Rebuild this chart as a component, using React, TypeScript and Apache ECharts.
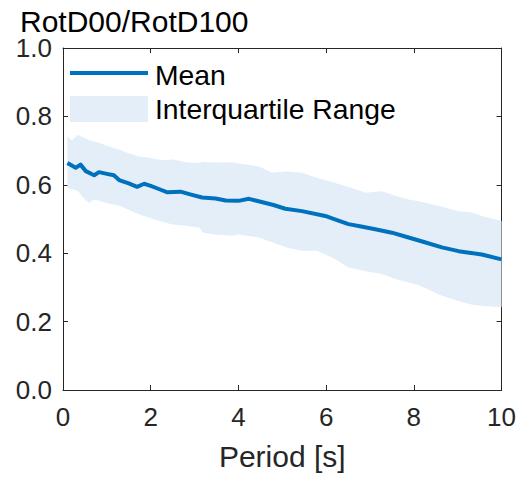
import React, { useEffect, useRef } from "react";
import * as echarts from "echarts";

const titleText = "RotD00/RotD100";
const xAxisName = "Period [s]";
const legendNames = ["Mean", "Interquartile Range"];
const xTicks = [0, 2, 4, 6, 8, 10];
const yTicks = [0, 0.2, 0.4, 0.6, 0.8, 1.0];

const meanPeriods = [0.1, 0.29, 0.4, 0.52, 0.71, 0.82, 1.0, 1.16, 1.28, 1.5, 1.69, 1.85, 2.0, 2.2, 2.38, 2.68, 2.9, 3.17, 3.48, 3.71, 4.0, 4.24, 4.46, 4.8, 5.07, 5.45, 5.98, 6.2, 6.51, 6.8, 7.12, 7.5, 7.88, 8.25, 8.64, 9.02, 9.55, 10];
const meanValues = [0.664, 0.650, 0.659, 0.640, 0.628, 0.637, 0.632, 0.628, 0.614, 0.604, 0.594, 0.603, 0.597, 0.587, 0.578, 0.580, 0.572, 0.563, 0.560, 0.554, 0.553, 0.559, 0.552, 0.541, 0.530, 0.523, 0.509, 0.499, 0.485, 0.478, 0.470, 0.460, 0.446, 0.432, 0.417, 0.406, 0.396, 0.382];

const bandPeriods = [0.1, 0.2, 0.35, 0.4, 0.5, 0.6, 0.7, 0.8, 1.0, 1.3, 1.5, 1.73, 2.0, 2.26, 2.5, 2.8, 3.1, 3.2, 3.5, 3.86, 4.0, 4.46, 4.77, 5.1, 5.45, 5.8, 6.21, 6.5, 6.9, 7.27, 7.6, 7.88, 8.11, 8.6, 9.02, 9.3, 9.55, 10];
const bandUpper = [0.741, 0.730, 0.746, 0.742, 0.737, 0.730, 0.727, 0.724, 0.714, 0.702, 0.692, 0.683, 0.678, 0.672, 0.674, 0.666, 0.664, 0.667, 0.665, 0.666, 0.662, 0.654, 0.635, 0.639, 0.635, 0.620, 0.605, 0.594, 0.577, 0.581, 0.567, 0.557, 0.552, 0.537, 0.523, 0.520, 0.509, 0.494];
const bandLower = [0.591, 0.587, 0.581, 0.572, 0.557, 0.547, 0.557, 0.554, 0.547, 0.538, 0.527, 0.514, 0.502, 0.492, 0.484, 0.480, 0.475, 0.460, 0.454, 0.451, 0.455, 0.446, 0.432, 0.417, 0.407, 0.407, 0.382, 0.359, 0.347, 0.339, 0.324, 0.314, 0.307, 0.278, 0.260, 0.250, 0.246, 0.242];

const LINE_COLOR = "#0072BD";
const BAND_COLOR = "#E4EEF8";
const AXIS_COLOR = "#262626";
const FONT = "'Liberation Sans', Arial, Helvetica, sans-serif";

export default function App() {
  const ref = useRef<HTMLDivElement>(null);

  useEffect(() => {
    if (!ref.current) return;
    const chart = echarts.init(ref.current, null, { renderer: "svg" });

    const axisLine = { show: true, onZero: false, lineStyle: { color: AXIS_COLOR, width: 1 } };
    const axisTick = { show: true, inside: true, length: 5, lineStyle: { color: AXIS_COLOR, width: 1 } };

    const option: any = {
      animation: false,
      textStyle: { fontFamily: FONT },
      grid: { left: 63, right: 16, top: 48, bottom: 87, containLabel: false },
      xAxis: [
        {
          type: "value",
          min: xTicks[0],
          max: xTicks[xTicks.length - 1],
          interval: 2,
          position: "bottom",
          axisLine,
          axisTick,
          splitLine: { show: false },
          axisLabel: { fontSize: 26, color: AXIS_COLOR, margin: 14, fontFamily: FONT },
          name: xAxisName,
          nameLocation: "middle",
          nameGap: 51,
          nameTextStyle: { fontSize: 30, color: AXIS_COLOR, fontFamily: FONT },
        },
        {
          type: "value",
          min: xTicks[0],
          max: xTicks[xTicks.length - 1],
          interval: 2,
          position: "top",
          axisLine,
          axisTick,
          splitLine: { show: false },
          axisLabel: { show: false },
        },
      ],
      yAxis: [
        {
          type: "value",
          min: yTicks[0],
          max: yTicks[yTicks.length - 1],
          interval: 0.2,
          position: "left",
          axisLine,
          axisTick,
          splitLine: { show: false },
          axisLabel: {
            fontSize: 26,
            lineHeight: 24,
            color: AXIS_COLOR,
            margin: 11,
            fontFamily: FONT,
            formatter: (v: number) => v.toFixed(1),
          },
        },
        {
          type: "value",
          min: yTicks[0],
          max: yTicks[yTicks.length - 1],
          interval: 0.2,
          position: "right",
          axisLine,
          axisTick,
          splitLine: { show: false },
          axisLabel: { show: false },
        },
      ],
      series: [
        {
          name: legendNames[1],
          type: "custom",
          silent: true,
          xAxisIndex: 0,
          yAxisIndex: 0,
          data: [[bandPeriods[0], bandUpper[0]]],
          renderItem: (params: any, api: any) => {
            if (params.dataIndex !== 0) return null;
            const pts: number[][] = [];
            for (let i = 0; i < bandPeriods.length; i++) pts.push(api.coord([bandPeriods[i], bandUpper[i]]));
            for (let i = bandPeriods.length - 1; i >= 0; i--) pts.push(api.coord([bandPeriods[i], bandLower[i]]));
            return { type: "polygon", shape: { points: pts }, style: { fill: BAND_COLOR, stroke: "none" } };
          },
          z: 1,
        },
        {
          name: legendNames[0],
          type: "line",
          xAxisIndex: 0,
          yAxisIndex: 0,
          data: meanPeriods.map((p, i) => [p, meanValues[i]]),
          showSymbol: false,
          symbol: "none",
          lineStyle: { color: LINE_COLOR, width: 4, join: "round" },
          z: 3,
        },
      ],
      graphic: [
        {
          type: "text",
          x: 20,
          y: 21,
          style: {
            text: titleText,
            fontSize: 30,
            lineHeight: 24,
            fill: "#000",
            fontFamily: FONT,
            verticalAlign: "middle",
            align: "left",
          },
        },
        {
          type: "line",
          shape: { x1: 70, y1: 73, x2: 148, y2: 73 },
          style: { stroke: LINE_COLOR, lineWidth: 4 },
          z: 10,
        },
        {
          type: "text",
          x: 155,
          y: 75,
          style: { text: legendNames[0], fontSize: 28.3, fill: "#000", fontFamily: FONT, verticalAlign: "middle", align: "left" },
          z: 10,
        },
        {
          type: "rect",
          shape: { x: 70, y: 96, width: 78, height: 26 },
          style: { fill: BAND_COLOR },
          z: 10,
        },
        {
          type: "text",
          x: 155,
          y: 109,
          style: { text: legendNames[1], fontSize: 28.3, fill: "#000", fontFamily: FONT, verticalAlign: "middle", align: "left" },
          z: 10,
        },
      ],
    };

    chart.setOption(option);
    return () => chart.dispose();
  }, []);

  return <div ref={ref} style={{ width: 519, height: 477, position: "absolute", left: 0, top: 0 }} />;
}
